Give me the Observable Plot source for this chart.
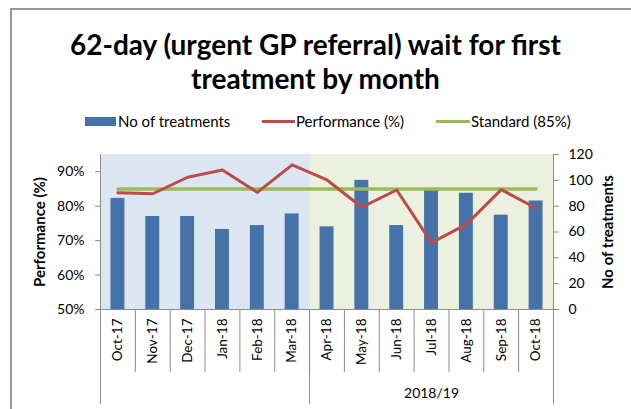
<!DOCTYPE html>
<html>
<head>
<meta charset="utf-8">
<script src="https://cdn.jsdelivr.net/npm/d3@7"></script>
<script src="https://cdn.jsdelivr.net/npm/@observablehq/plot@0.6"></script>
<style>
  html, body { margin: 0; padding: 0; background: #fff; }
  #wrap { position: relative; width: 631px; height: 409px; overflow: hidden; font-family: Lato, "Open Sans", sans-serif; color: #000; }
  #border { position: absolute; left: 10px; top: 8px; width: 640px; height: 420px; border-left: 2px solid #9a9a9a; border-top: 2px solid #9a9a9a; }
  #title { position: absolute; left: 0; top: 27px; width: 631px; text-align: center; font-weight: bold; font-size: 28px; line-height: 34px; }
  .lg { position: absolute; font-size: 15px; line-height: 18px; top: 112px; white-space: nowrap; }
  .sw { position: absolute; }
  #chart { position: absolute; left: 0; top: 140px; }
</style>
</head>
<body>
<div id="wrap">
  <div id="border"></div>
  <div id="title"></div>
  <div id="legend"></div>
  <div id="chart"></div>
</div>
<script>
const chartTitle = ["62-day (urgent GP referral) wait for first", "treatment by month"];
const months = ["Oct-17","Nov-17","Dec-17","Jan-18","Feb-18","Mar-18","Apr-18","May-18","Jun-18","Jul-18","Aug-18","Sep-18","Oct-18"];
const treatments = [86, 72, 72, 62, 65, 74, 64, 100, 65, 93, 90, 73, 84];
const performance = [83.9, 83.6, 88.4, 90.5, 84.0, 92.0, 87.6, 79.7, 84.7, 69.4, 74.7, 84.8, 79.4];
const standard = 85;
const groupLabels = ["", "2018/19"];
const groupStarts = [0, 6];
const groupEnds = [5, 12];
const leftTicks = [50, 60, 70, 80, 90];
const rightTicks = [0, 20, 40, 60, 80, 100, 120];
const seriesNames = ["No of treatments", "Performance (%)", "Standard (85%)"];
const axisTitles = ["Performance (%)", "No of treatments"];

const colBar = "#4672AA", colPerf = "#BE4B48", colStd = "#9BBB59";
const bgCols = ["#DCE6F2", "#EBF1DE"];
const axisCol = "#8c8c8c";

// left axis domain 50..95 %, right axis 0..120 mapped onto it
const pMin = 50, pMax = 95, cMax = 120;
const toP = c => pMin + c * (pMax - pMin) / cMax;

document.getElementById("title").innerHTML = chartTitle.join("<br>");

// legend
const legend = document.getElementById("legend");
const lgItems = [
  {name: seriesNames[0], kind: "box", color: colBar, sx: 85, sw: 31, tx: 118},
  {name: seriesNames[1], kind: "line", color: colPerf, sx: 262, sw: 33, tx: 296},
  {name: seriesNames[2], kind: "line", color: colStd, sx: 436, sw: 34, tx: 471}
];
for (const it of lgItems) {
  const s = document.createElement("div");
  s.className = "sw";
  s.style.left = it.sx + "px";
  s.style.width = it.sw + "px";
  s.style.background = it.color;
  if (it.kind === "box") { s.style.top = "117px"; s.style.height = "9px"; }
  else { s.style.top = "120px"; s.style.height = "3px"; }
  legend.appendChild(s);
  const t = document.createElement("div");
  t.className = "lg";
  t.style.left = it.tx + "px";
  t.textContent = it.name;
  legend.appendChild(t);
}

const data = months.map((m, i) => ({i, month: m, n: treatments[i], perf: performance[i], std: standard}));
const groups = groupLabels.map((g, k) => ({label: g, start: groupStarts[k], end: groupEnds[k], color: bgCols[k]}));
const rightMap = new Map(rightTicks.map(c => [toP(c), c]));
const sepTicks = d3.range(-0.5, months.length, 1);
const groupSeps = [groupStarts[0] - 0.5, ...groupEnds.map(e => e + 0.5)];

const plot = Plot.plot({
  width: 631,
  height: 269,
  marginTop: 14,
  marginBottom: 100,
  marginLeft: 100,
  marginRight: 78,
  style: {fontFamily: "Lato, 'Open Sans', sans-serif", fontSize: "14px", color: "#000", background: "transparent"},
  x: {type: "linear", domain: [-0.5, months.length - 0.5]},
  y: {domain: [pMin, pMax]},
  marks: [
    Plot.rect(groups, {x1: d => d.start - 0.5, x2: d => d.end + 0.5, y1: pMin, y2: pMax, fill: d => d.color}),
    Plot.rectY(data, {x1: d => d.i - 0.2, x2: d => d.i + 0.2, y1: pMin, y2: d => toP(d.n), fill: colBar}),
    Plot.lineY(data, {x: "i", y: "std", stroke: colStd, strokeWidth: 3.5}),
    Plot.lineY(data, {x: "i", y: "perf", stroke: colPerf, strokeWidth: 3}),
    Plot.ruleX([-0.5, months.length - 0.5], {stroke: axisCol}),
    Plot.ruleY([pMin], {stroke: axisCol}),
    // left axis
    Plot.axisY(leftTicks, {anchor: "left", tickSize: 5, tickPadding: 11, stroke: axisCol, fontSize: 14, tickFormat: d => d + "%", label: null}),
    // right axis
    Plot.axisY(rightTicks.map(toP), {anchor: "right", tickSize: 5, tickPadding: 10, stroke: axisCol, fontSize: 14, tickFormat: p => String(rightMap.get(p)), label: null}),
    // axis titles
    Plot.text([axisTitles[0]], {frameAnchor: "left", dx: -60, rotate: -90, textAnchor: "middle", fontWeight: "bold", fontSize: 15, fill: "#000"}),
    Plot.text([axisTitles[1]], {frameAnchor: "right", dx: 55, rotate: -90, textAnchor: "middle", fontWeight: "bold", fontSize: 15, fill: "#000"}),
    // month separators
    Plot.axisX(sepTicks, {anchor: "bottom", tickSize: 63, stroke: axisCol, tickFormat: () => "", label: null}),
    // group separators
    Plot.axisX(groupSeps, {anchor: "bottom", tickSize: 95, stroke: axisCol, tickFormat: () => "", label: null}),
    // month labels
    Plot.axisX(data.map(d => d.i), {anchor: "bottom", tickSize: 0, tickPadding: 9, tickRotate: -90, fontSize: 13.5, tickFormat: i => months[i], label: null}),
    // group labels
    Plot.axisX(groups.map(g => (g.start + g.end) / 2), {anchor: "bottom", tickSize: 0, tickPadding: 79, fontSize: 14, tickFormat: v => groups.find(g => (g.start + g.end) / 2 === v).label, label: null})
  ]
});
document.getElementById("chart").appendChild(plot);
</script>
</body>
</html>
